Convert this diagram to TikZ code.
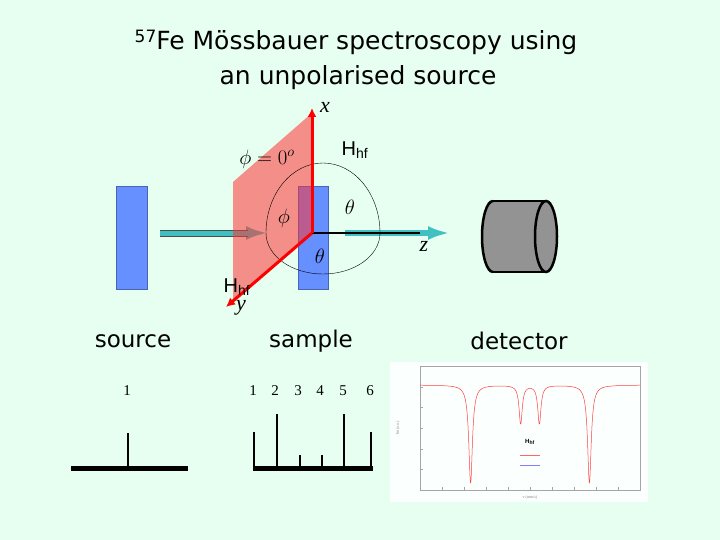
\documentclass[tikz,border=0pt]{standalone}
\usepackage{fontspec}
\usetikzlibrary{arrows.meta}
\setmainfont{Liberation Serif}
\newfontfamily\ttl{DejaVu Sans}
\newfontfamily\hv{Liberation Sans}
\definecolor{bg}{HTML}{E6FFF0}
\definecolor{blu}{HTML}{6690FF}
\definecolor{tealc}{HTML}{40C0C0}
\begin{document}
\begin{tikzpicture}[x=1pt,y=-1pt,
 lab/.style={font=\ttl\fontsize{23}{25}\selectfont},
 mth/.style={font=\fontsize{22}{24}\selectfont\itshape},
 hf/.style={font=\hv\fontsize{20}{22}\selectfont},
 num/.style={font=\fontsize{15}{17}\selectfont},
 bar/.style={line width=5pt},
 stk/.style={line width=1.6pt}]
\fill[bg] (0,0) rectangle (720,540);
\useasboundingbox (0,0) rectangle (720,540);
% title
\node[lab,font=\ttl\fontsize{25}{28}\selectfont] (t1) at (356,42) {\raisebox{0.5ex}{\fontsize{17}{18}\selectfont 57}Fe Mössbauer spectroscopy using};
\node[lab,font=\ttl\fontsize{25}{28}\selectfont] (t2) at (358,78) {an unpolarised source};
% source, sample
\node[draw=blu!70!black,fill=blu,minimum width=31pt,minimum height=103pt,inner sep=0pt] (src) at (132,238) {};
\node[draw=blu!70!black,fill=blu,minimum width=30pt,minimum height=103pt,inner sep=0pt] (smp) at (313,238) {};
% beam
\coordinate (b0) at (160,233); \coordinate (b1) at (268,233);
\draw[line width=6pt,tealc,-{Latex[length=22pt,width=14pt]}] (b0) -- (b1);
\draw[line width=0.8pt,black!70] (160,230) -- (248,230) (160,236)--(248,236);
% plane
\coordinate (o) at (312,233);
\fill[red!80!white,opacity=0.55] (233,182) -- (312,113) -- (312,233) -- (233,302) -- cycle;
% z axis
\coordinate (zend) at (450,233);
\draw[line width=2pt] (o) -- (345,233);
\draw[line width=6pt,tealc,-{Latex[length=22pt,width=14pt]}] (345,233) -- (zend);
\draw[line width=2pt] (345,233) -- (420,233);
% ellipse
\draw[thin] (266,233) arc[start angle=180,end angle=0,x radius=57,y radius=-70];
\draw[thin] (266,233) arc[start angle=180,end angle=360,x radius=57,y radius=-41];
% axes
\coordinate (xend) at (312,108); \coordinate (yend) at (226,307);
\draw[red,line width=3pt,-{Latex[length=9pt,width=9pt]}] (o) -- (xend);
\draw[red,line width=3pt,-{Latex[length=9pt,width=9pt]}] (o) -- (yend);
% labels
\node[mth] (lx) at (325,107) {x};
\node[mth] (ly) at (241,308) {y};
\node[mth] (lz) at (424,246) {z};
\node[hf] (h1) at (355,150) {H\textsubscript{hf}};
\node[hf] (h2) at (237,287) {H\textsubscript{hf}};
\node[mth] (p0) at (267,159) {$\phi = 0^o$};
\node[mth] (p1) at (284,218) {$\phi$};
\node[mth] (th1) at (350,207) {$\theta$};
\node[mth] (th2) at (320,256) {$\theta$};
% detector
\fill[gray!85] (493,201) -- (546,201) -- (546,272) -- (493,272) arc[start angle=90,end angle=270,x radius=11,y radius=35.5] -- cycle;
\fill[gray!85] (546,236.5) ellipse [x radius=11,y radius=35.5];
\draw[line width=2.5pt] (493,201) -- (546,201) (493,272) -- (546,272);
\draw[line width=2.5pt] (493,272) arc[start angle=90,end angle=270,x radius=11,y radius=35.5];
\draw[line width=2.5pt] (546,236.5) ellipse [x radius=11,y radius=35.5];
% captions
\node[lab] (cs) at (133,341) {source};
\node[lab] (cm) at (311,341) {sample};
\node[lab] (cd) at (519,341) {detector};
% stick spectra
\node[num] (n0) at (127,391) {1};
\draw[bar] (71,468) -- (188,468);
\draw[stk] (128,468) -- (128,433);
\foreach \x/\h/\n in {254/432/1,277/414/2,300/455/3,322/455/4,344/414/5,371/432/6}{
 \draw[stk] (\x,468) -- (\x,\h);}
\foreach \x/\n in {253/1,275/2,298/3,320/4,343/5,370/6}{\node[num] at (\x,391) {\n};}
\draw[bar] (253,468) -- (373,468);
% graph
\node[fill=white!85!bg,minimum width=258pt,minimum height=140pt,inner sep=0pt] (gr) at (519,432) {};
\draw[gray!70,line width=0.3pt] (420,366) rectangle (640,490);
\foreach \i in {0,...,10}{\draw[gray!70,line width=0.3pt] (420+22*\i,490) -- (420+22*\i,487);}
\foreach \i in {0,...,6}{\draw[gray!70,line width=0.3pt] (420,366+20.7*\i) -- (423,366+20.7*\i);}
\draw[red!75,line width=0.5pt,domain=-10:10,samples=400,smooth] plot ({530+\x*11},{385+ 98*(0.04/((\x+5.4)^2+0.04)) + 39*(0.03/((\x+0.85)^2+0.03)) + 39*(0.03/((\x-0.85)^2+0.03)) + 98*(0.04/((\x-5.4)^2+0.04))});
\node[font=\hv\fontsize{6}{7}\selectfont\bfseries] (hl) at (530,442) {H\textsubscript{hf}};
\draw[red!60,line width=0.4pt] (520,455) -- (540,455);
\draw[blue!50,line width=0.4pt] (520,465) -- (540,465);
\node[font=\fontsize{4}{5}\selectfont,rotate=90,gray] (ya) at (398,428) {Int (a.u.)};
\node[font=\fontsize{4}{5}\selectfont,gray] (xa) at (530,498) {v (mm/s)};
\end{tikzpicture}
\end{document}
